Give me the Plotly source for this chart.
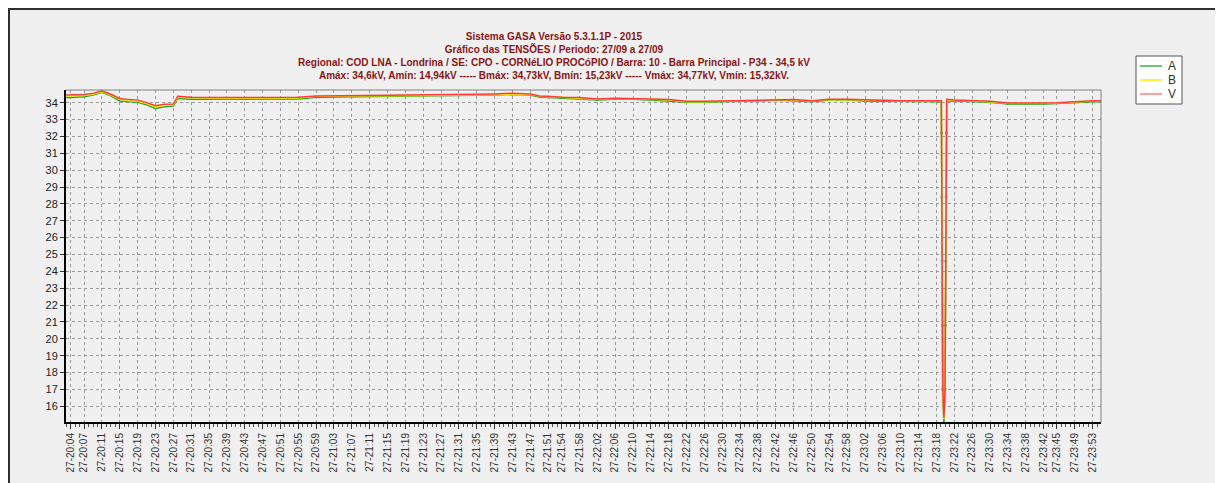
import plotly.graph_objects as go

DAY = "2015-09-27 "

# sample times (HH:MM or HH:MM:SS)
times = ["20:03", "20:04", "20:07", "20:09", "20:11", "20:13", "20:15", "20:17", "20:19", "20:21",
         "20:23", "20:25", "20:27", "20:28", "20:31", "20:35", "20:39", "20:43", "20:47", "20:51",
         "20:55", "20:59", "21:03", "21:07", "21:11", "21:15", "21:19", "21:23", "21:27", "21:31",
         "21:35", "21:39", "21:43", "21:47", "21:49", "21:51", "21:54", "21:58", "22:02", "22:06",
         "22:10", "22:14", "22:18", "22:22", "22:26", "22:30", "22:34", "22:38", "22:42", "22:46",
         "22:50", "22:54", "22:58", "23:02", "23:06", "23:10", "23:14", "23:18",
         "23:19:05", "23:19:08", "23:19:12", "23:19:16", "23:19:20", "23:19:24", "23:19:40",
         "23:19:56", "23:20:00", "23:20:04", "23:20:08", "23:20:12", "23:20:18",
         "23:22", "23:26", "23:30", "23:34", "23:38", "23:42", "23:45", "23:49", "23:53", "23:55"]

volt_a = [34.30, 34.30, 34.35, 34.45, 34.62, 34.40, 34.10, 34.05, 34.02, 33.88,
          33.65, 33.75, 33.80, 34.25, 34.20, 34.20, 34.18, 34.20, 34.22, 34.20,
          34.22, 34.32, 34.33, 34.34, 34.35, 34.36, 34.38, 34.38, 34.40, 34.42,
          34.44, 34.45, 34.48, 34.45, 34.33, 34.30, 34.25, 34.22, 34.15, 34.20,
          34.20, 34.15, 34.10, 34.02, 34.02, 34.05, 34.06, 34.10, 34.15, 34.12,
          34.06, 34.15, 34.15, 34.10, 34.10, 34.06, 34.06, 34.06,
          34.06, 32.20, 28.40, 24.60, 20.80, 17.00, 14.94,
          17.00, 20.80, 24.60, 28.40, 32.20, 34.10,
          34.10, 34.05, 34.02, 33.92, 33.90, 33.92, 33.95, 34.02, 34.06, 34.06]

volt_b = [34.38, 34.38, 34.42, 34.50, 34.66, 34.45, 34.20, 34.12, 34.08, 33.95,
          33.75, 33.85, 33.88, 34.32, 34.28, 34.26, 34.24, 34.26, 34.28, 34.26,
          34.28, 34.38, 34.38, 34.38, 34.40, 34.40, 34.42, 34.42, 34.44, 34.46,
          34.48, 34.50, 34.52, 34.50, 34.38, 34.35, 34.30, 34.28, 34.20, 34.25,
          34.24, 34.20, 34.15, 34.05, 34.05, 34.08, 34.10, 34.14, 34.18, 34.15,
          34.10, 34.18, 34.18, 34.14, 34.14, 34.10, 34.10, 34.10,
          34.10, 32.20, 28.40, 24.60, 20.80, 17.00, 15.23,
          17.00, 20.80, 24.60, 28.40, 32.20, 34.15,
          34.14, 34.10, 34.06, 33.96, 33.95, 33.96, 33.98, 34.06, 34.10, 34.10]

volt_v = [34.45, 34.45, 34.48, 34.55, 34.70, 34.50, 34.25, 34.18, 34.15, 34.00,
          33.82, 33.90, 33.92, 34.38, 34.32, 34.30, 34.28, 34.30, 34.30, 34.30,
          34.32, 34.40, 34.40, 34.42, 34.42, 34.44, 34.46, 34.46, 34.48, 34.50,
          34.50, 34.52, 34.56, 34.52, 34.40, 34.38, 34.32, 34.30, 34.22, 34.26,
          34.26, 34.22, 34.18, 34.08, 34.08, 34.10, 34.12, 34.16, 34.20, 34.18,
          34.12, 34.20, 34.20, 34.16, 34.15, 34.12, 34.12, 34.12,
          34.12, 32.20, 28.40, 24.60, 20.80, 17.00, 15.32,
          17.00, 20.80, 24.60, 28.40, 32.20, 34.20,
          34.16, 34.12, 34.08, 33.98, 33.97, 33.98, 34.00, 34.08, 34.12, 34.12]

tick_labels = ["20:04", "20:07", "20:11", "20:15", "20:19", "20:23", "20:27", "20:31", "20:35", "20:39",
               "20:43", "20:47", "20:51", "20:55", "20:59", "21:03", "21:07", "21:11", "21:15", "21:19",
               "21:23", "21:27", "21:31", "21:35", "21:39", "21:43", "21:47", "21:51", "21:54", "21:58",
               "22:02", "22:06", "22:10", "22:14", "22:18", "22:22", "22:26", "22:30", "22:34", "22:38",
               "22:42", "22:46", "22:50", "22:54", "22:58", "23:02", "23:06", "23:10", "23:14", "23:18",
               "23:22", "23:26", "23:30", "23:34", "23:38", "23:42", "23:45", "23:49", "23:53"]

series_names = ["A", "B", "V"]
series_colors = ["#22a022", "#f5f500", "#ff3a3a"]
legend_colors = ["#3cb43c", "#f0f000", "#ff8080"]

def to_dt(t):
    return DAY + (t if len(t) == 8 else t + ":00")

x = [to_dt(t) for t in times]

fig = go.Figure()
for i, (name, vals, col) in enumerate(zip(series_names, [volt_a, volt_b, volt_v], series_colors)):
    if i == 0:
        sizes = [2.5 if 16 < v < 33 else 0 for v in vals]
        fig.add_trace(go.Scatter(x=x, y=vals, mode="lines+markers", name=name,
                                 line=dict(color=col, width=1.5),
                                 marker=dict(size=sizes, color="#3a5a0a", symbol="square",
                                             line=dict(width=0))))
    else:
        fig.add_trace(go.Scatter(x=x, y=vals, mode="lines", name=name,
                                 line=dict(color=col, width=1.5)))

# figure is drawn inside an 8px page margin: screen = figure + 8
OFF = 8
W, H = 1223 - OFF, 483 - OFF
L, R, T, B = 66 - OFF, 1101 - OFF, 90 - OFF, 422 - OFF
pw, ph = R - L, B - T

def px(xs):
    return (xs - OFF - L) / pw

def py(ys):
    return (B - (ys - OFF)) / ph

panel_bg = "#f0f0f0"
shapes = [
    dict(type="line", xref="paper", yref="paper", x0=px(8), x1=px(1240), y0=py(9), y1=py(9),
         line=dict(color="#303030", width=2)),
    dict(type="line", xref="paper", yref="paper", x0=px(9), x1=px(9), y0=py(500), y1=py(8),
         line=dict(color="#303030", width=2)),
    dict(type="line", xref="paper", yref="paper", x0=0, x1=1, y0=1, y1=1,
         line=dict(color="#808080", width=1)),
    dict(type="line", xref="paper", yref="paper", x0=1, x1=1, y0=0, y1=1,
         line=dict(color="#808080", width=1)),
    # legend box
    dict(type="rect", xref="paper", yref="paper", x0=px(1136), x1=px(1182), y0=py(104), y1=py(56),
         fillcolor="white", line=dict(color="#555555", width=1)),
]

legend_rows = [66, 80, 94]
for name, col, yr in zip(series_names, legend_colors, legend_rows):
    shapes.append(dict(type="line", xref="paper", yref="paper", x0=px(1140), x1=px(1162),
                       y0=py(yr), y1=py(yr), line=dict(color=col, width=1.5)))
    fig.add_annotation(xref="paper", yref="paper", x=px(1166), y=py(yr), xanchor="left",
                       yanchor="middle", showarrow=False, text=name,
                       font=dict(family="Liberation Sans, Arial", size=12, color="#333333"))

title_lines = [
    "Sistema GASA Versão 5.3.1.1P - 2015",
    "Gráfico das TENSÕES / Periodo: 27/09 a 27/09",
    "Regional: COD LNA - Londrina / SE: CPO - CORNéLIO PROCóPIO / Barra: 10 - Barra Principal - P34 - 34,5 kV",
    "Amáx: 34,6kV, Amín: 14,94kV ----- Bmáx: 34,73kV, Bmín: 15,23kV ----- Vmáx: 34,77kV, Vmín: 15,32kV.",
]

fig.add_annotation(xref="paper", yref="paper", x=px(554), y=py(29), xanchor="center", yanchor="top",
                   showarrow=False, align="center",
                   text="<br>".join("<b>%s</b>" % s for s in title_lines),
                   font=dict(family="Liberation Sans, Arial", size=10, color="#8b1414"))

fig.update_layout(
    width=W, height=H,
    margin=dict(l=L, r=W - R, t=T, b=H - B, pad=0),
    paper_bgcolor=panel_bg,
    plot_bgcolor=panel_bg,
    shapes=shapes,
    showlegend=False,
    xaxis=dict(
        type="date",
        range=[DAY + "20:02:57", DAY + "23:54:52"],
        tickmode="array",
        tickvals=[to_dt(t) for t in tick_labels],
        ticktext=["27-" + t for t in tick_labels],
        tickangle=-90,
        tickfont=dict(family="Liberation Sans, Arial", size=10, color="#333333"),
        ticks="outside", ticklen=5, tickcolor="#333333",
        showgrid=True, gridcolor="#9a9a9a", griddash="3px,3px", gridwidth=1,
        showline=True, linecolor="black", linewidth=2,
        minor=dict(ticks="outside", ticklen=3, dtick=60000, tickcolor="#555555", showgrid=False),
        zeroline=False,
    ),
    yaxis=dict(
        range=[15.07, 34.75],
        tickmode="linear", tick0=16, dtick=1,
        tickfont=dict(family="Liberation Sans, Arial", size=11, color="#222222"),
        ticks="outside", ticklen=4, tickcolor="#333333",
        showgrid=True, gridcolor="#9a9a9a", griddash="3px,3px", gridwidth=1,
        showline=True, linecolor="black", linewidth=2,
        zeroline=False,
    ),
)

fig.write_html("out.html")
